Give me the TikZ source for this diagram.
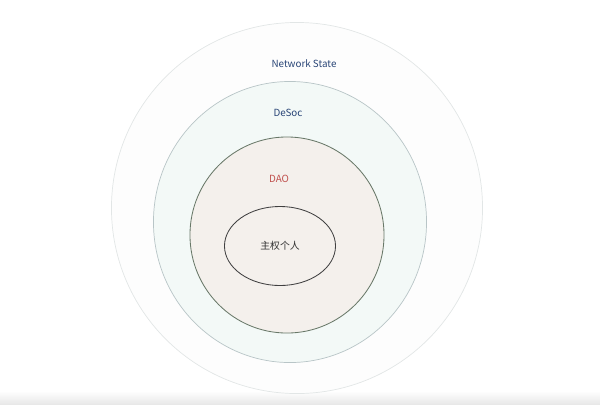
\documentclass[tikz,border=0pt]{standalone}
\usepackage{fontspec}
\setmainfont{Noto Sans CJK SC}
\usetikzlibrary{shapes.geometric}

\definecolor{nsline}{HTML}{E2E6E6}
\definecolor{nsfill}{HTML}{FDFDFD}
\definecolor{desocline}{HTML}{B8C5C7}
\definecolor{desocfill}{HTML}{F3F9F7}
\definecolor{daoline}{HTML}{687868}
\definecolor{daofill}{HTML}{F4F0EC}
\definecolor{hatchcol}{HTML}{E3D8D1}
\definecolor{labelblue}{HTML}{2A4677}
\definecolor{labelred}{HTML}{C0504D}

\tikzset{
    ring/.style={ellipse, inner sep=0pt},
    hatchline/.style={hatchcol, line width=0.35pt},
    tag/.style={font=\fontsize{7}{8}\selectfont, inner sep=1pt}
}

\begin{document}
\begin{tikzpicture}[x=0.025cm, y=-0.025cm]
    \useasboundingbox (0,0) rectangle (600,404);
    \shade[top color=white, bottom color=black!9] (0,391) rectangle (600,404);
    \node[ring, draw=nsline, fill=nsfill, line width=0.5pt,
        minimum width=9.275cm, minimum height=9.275cm] (netstate) at (297,208) {};
    \node[ring, draw=desocline, fill=desocfill, line width=0.5pt,
        minimum width=6.825cm, minimum height=7.025cm] (desoc) at (290,222) {};
    \node[ring, draw=daoline, fill=daofill, line width=0.6pt,
        minimum width=4.85cm, minimum height=4.9cm,
        path picture={\foreach \k in {-6,-5.92,...,3}
            \draw[hatchline] ([shift={(\k cm,3cm)}]path picture bounding box.center) -- ++(55:8cm);}] (dao) at (287,235) {};
    \node[ring, draw=black!75, line width=0.6pt,
        minimum width=2.775cm, minimum height=1.975cm] (self) at (280,246) {};
    % labels
    \node[tag, text=labelblue] (nslabel) at (304,64) {Network State};
    \node[tag, text=labelblue] (desoclabel) at (288,113) {DeSoc};
    \node[tag, text=labelred] (daolabel) at (279,179) {DAO};
    \node[tag, text=black!80] (selflabel) at (self.center) {主权个人};
\end{tikzpicture}
\end{document}
